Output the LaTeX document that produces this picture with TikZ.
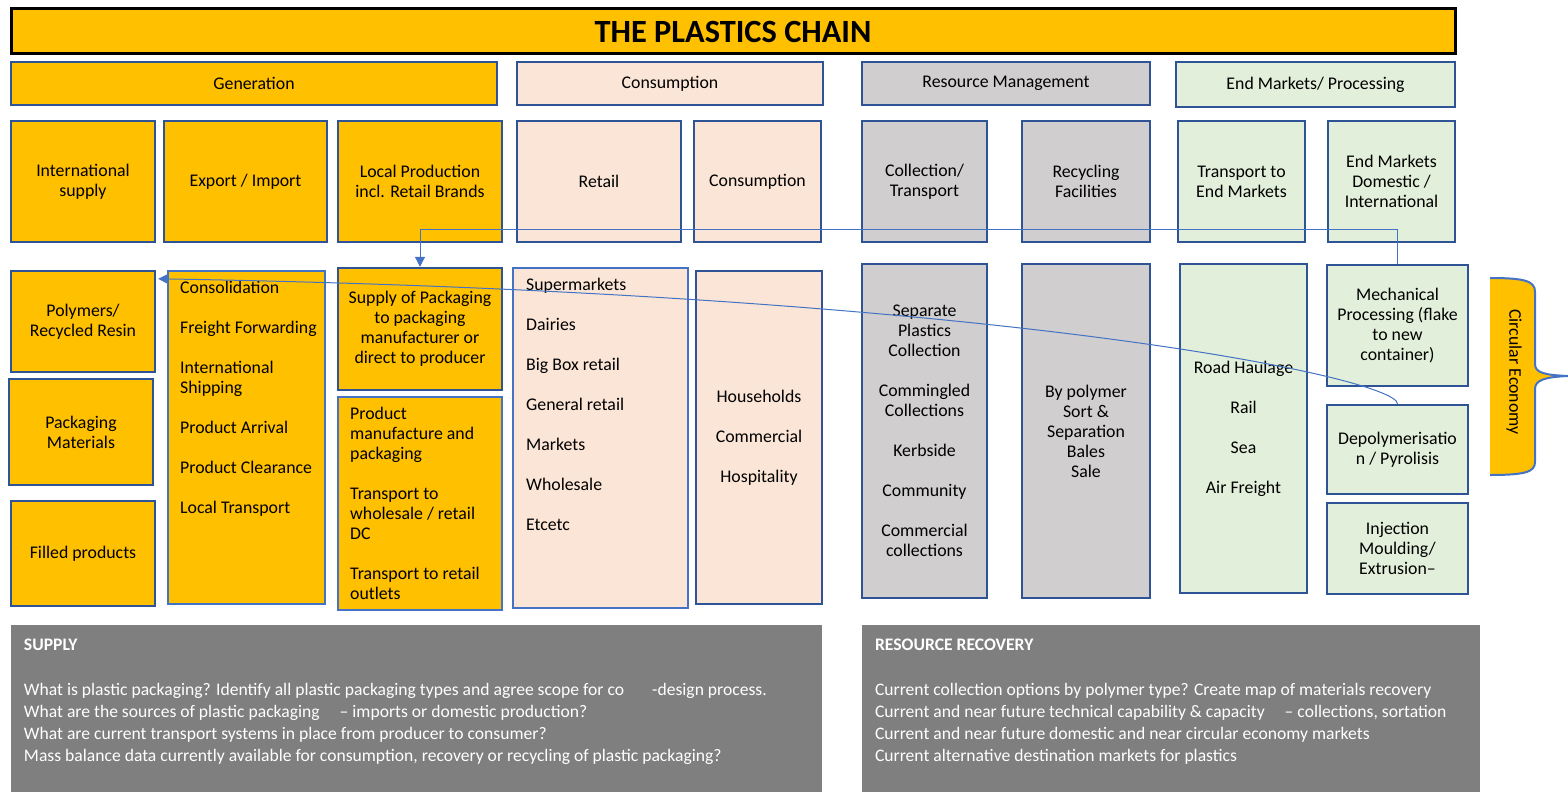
\documentclass[tikz,border=0pt]{standalone}
\usepackage{fontspec}
\setmainfont{Carlito}
\usetikzlibrary{fit,calc,arrows.meta}
\definecolor{chainorange}{HTML}{FFC000}
\definecolor{edgeblue}{HTML}{2F5496}
\definecolor{listblue}{HTML}{4472C4}
\definecolor{conpeach}{HTML}{FBE5D6}
\definecolor{resgray}{HTML}{D0CECE}
\definecolor{endgreen}{HTML}{E2EFDA}
\definecolor{notegray}{HTML}{7F7F7F}
\newcommand{\boxfont}{\fontsize{8.9}{10}\selectfont}
\newcommand{\notefont}{\fontsize{8.8}{11}\selectfont}
\tikzset{
  chainbox/.style={draw=edgeblue, line width=1.2pt, inner sep=0pt},
  genbox/.style={chainbox, fill=chainorange},
  conbox/.style={chainbox, fill=conpeach},
  resbox/.style={chainbox, fill=resgray},
  endbox/.style={chainbox, fill=endgreen},
  boxtext/.style={inner sep=0pt, align=center, font=\boxfont},
  every label/.style={boxtext},
  listtext/.style={anchor=north west, inner sep=0pt, align=left, font=\boxfont},
  notebox/.style={fill=notegray, inner sep=0pt},
  notetext/.style={inner sep=0pt, align=left, text=white, font=\notefont},
  flow/.style={draw=listblue, line width=0.5pt},
}
\begin{document}
\begin{tikzpicture}[x=0.5pt, y=-0.5pt]
  \fill[white] (0,0) rectangle (1568,792);
  \useasboundingbox (0,0) rectangle (1568,792);
  % title and stage headers
  \node[draw=black, line width=1.5pt, fill=chainorange, inner sep=0pt, fit={(11,9) (1455,54)},
        label={[font=\bfseries\fontsize{16.2}{18}\selectfont]center:THE PLASTICS CHAIN}] (title) {};
  \node[genbox, fit={(11,62) (497,105)}, label=center:Generation] (hgen) {};
  \node[conbox, fit={(517,62) (823,105)}, label=center:Consumption] (hcon) {};
  \node[resbox, fit={(862,62) (1150,105)}, label=center:Resource Management] (hres) {};
  \node[endbox, fit={(1176,62) (1455,107)}, label=center:End Markets/ Processing] (hend) {};
  % second row
  \node[genbox, fit={(11,121) (155,242)}, label={center:{International\\supply}}] (intl) {};
  \node[genbox, fit={(164,121) (327,242)}, label=center:Export / Import] (expimp) {};
  \node[genbox, fit={(338,121) (502,242)}, label={center:{Local Production\\incl. Retail Brands}}] (localprod) {};
  \node[conbox, fit={(517,121) (681,242)}, label=center:Retail] (retail) {};
  \node[conbox, fit={(694,121) (821,242)}, label=center:Consumption] (consum) {};
  \node[resbox, fit={(862,121) (987,242)}, label={center:{Collection/\\Transport}}] (collect) {};
  \node[resbox, fit={(1022,121) (1150,242)}, label={center:{Recycling\\Facilities}}] (recyc) {};
  \node[endbox, fit={(1178,121) (1305,242)}, label={center:{Transport to\\End Markets}}] (transend) {};
  \node[endbox, fit={(1328,121) (1455,242)}, label={center:{End Markets\\Domestic /\\International}}] (endmkt) {};
  % third row
  \node[genbox, fit={(11,271) (155,372)}, label={center:{Polymers/\\Recycled Resin}}] (poly) {};
  \node[genbox, fit={(9,379) (153,485)}, label={center:{Packaging\\Materials}}] (pack) {};
  \node[genbox, fit={(11,501) (155,606)}, label=center:Filled products] (filled) {};
  \node[genbox, draw=listblue, fit={(168,271) (325,604)}] (logist) {};
  \node[listtext] (logisttext) at ($(logist.north west)+(13,11)$) {Consolidation\\[10pt]Freight Forwarding\\[10pt]International\\Shipping\\[10pt]Product Arrival\\[10pt]Product Clearance\\[10pt]Local Transport};
  \node[genbox, fit={(338,268) (502,390)}, label={center:{Supply of Packaging\\to packaging\\manufacturer or\\direct to producer}}] (supplypack) {};
  \node[genbox, draw=listblue, fit={(338,397) (502,610)}] (prodman) {};
  \node[listtext] (prodmantext) at ($(prodman.north west)+(13,11)$) {Product\\manufacture and\\packaging\\[10pt]Transport to\\wholesale / retail\\DC\\[10pt]Transport to retail\\outlets};
  \node[conbox, draw=listblue, fit={(513,268) (688,608)}] (retlist) {};
  \node[listtext] (retlisttext) at ($(retlist.north west)+(14,11)$) {Supermarkets\\[10pt]Dairies\\[10pt]Big Box retail\\[10pt]General retail\\[10pt]Markets\\[10pt]Wholesale\\[10pt]Etcetc};
  \node[conbox, fit={(696,271) (822,604)}, label={center:{Households\\[10pt]Commercial\\[10pt]Hospitality}}] (house) {};
  \node[resbox, fit={(862,264) (987,598)}, label={center:{Separate\\Plastics\\Collection\\[10pt]Commingled\\Collections\\[10pt]Kerbside\\[10pt]Community\\[10pt]Commercial\\collections}}] (sepcol) {};
  \node[resbox, fit={(1022,264) (1150,598)}, label={center:{By polymer\\Sort \&\\Separation\\Bales\\Sale}}] (bypoly) {};
  \node[endbox, fit={(1180,264) (1307,593)}, label={center:{Road Haulage\\[10pt]Rail\\[10pt]Sea\\[10pt]Air Freight}}] (haul) {};
  \node[endbox, fit={(1327,265) (1468,386)}, label={center:{Mechanical\\Processing (flake\\to new\\container)}}] (mech) {};
  \node[endbox, fit={(1327,405) (1468,494)}, label={center:{Depolymerisatio\\n / Pyrolisis}}] (depoly) {};
  \node[endbox, fit={(1327,503) (1468,594)}, label={center:{Injection\\Moulding/\\Extrusion--}}] (inject) {};
  % circular economy brace
  \fill[chainorange] (1490,278) .. controls (1525,278) and (1535,281) .. (1535,292) -- (1535,364) .. controls (1535,373) and (1545,375) .. (1568,376) .. controls (1545,377) and (1535,380) .. (1535,389) -- (1535,462) .. controls (1535,472) and (1525,475) .. (1490,475) -- cycle;
  \draw[listblue, line width=1pt] (1490,278) .. controls (1525,278) and (1535,281) .. (1535,292) -- (1535,364) .. controls (1535,373) and (1545,375) .. (1568,376) .. controls (1545,377) and (1535,380) .. (1535,389) -- (1535,462) .. controls (1535,472) and (1525,475) .. (1490,475);
  \node[boxtext, rotate=-90] (circ) at (1514,372) {Circular Economy};
  % connectors
  \draw[flow, -{Triangle[length=5pt, width=5pt]}] (mech.north) -- ++(0,-34) -| (supplypack.north);
  \draw[flow, -{Triangle[length=5pt, width=5pt]}] (depoly.north) .. controls (1397,378) and (1000,293) .. ($(poly.north east)+(2,9)$);
  % questions
  \node[notebox, fit={(11,625) (822,792)}] (supplyq) {};
  \node[notetext, anchor=west, font=\bfseries\notefont] (supplyhead) at ($(supplyq.north west)+(13,20)$) {SUPPLY};
  \node[notetext, anchor=north west] (supplylines) at ($(supplyq.north west)+(13,58)$) {What is plastic packaging? Identify all plastic packaging types and agree scope for co\hspace{14pt}-design process.\\What are the sources of plastic packaging\hspace{10pt}-- imports or domestic production?\\What are current transport systems in place from producer to consumer?\\Mass balance data currently available for consumption, recovery or recycling of plastic packaging?};
  \node[notebox, fit={(862,625) (1480,792)}] (recovq) {};
  \node[notetext, anchor=west, font=\bfseries\notefont] (recovhead) at ($(recovq.north west)+(13,20)$) {RESOURCE RECOVERY};
  \node[notetext, anchor=north west] (recovlines) at ($(recovq.north west)+(13,58)$) {Current collection options by polymer type? Create map of materials recovery\\Current and near future technical capability \& capacity\hspace{10pt}-- collections, sortation\\Current and near future domestic and near circular economy markets\\Current alternative destination markets for plastics};
\end{tikzpicture}
\end{document}
